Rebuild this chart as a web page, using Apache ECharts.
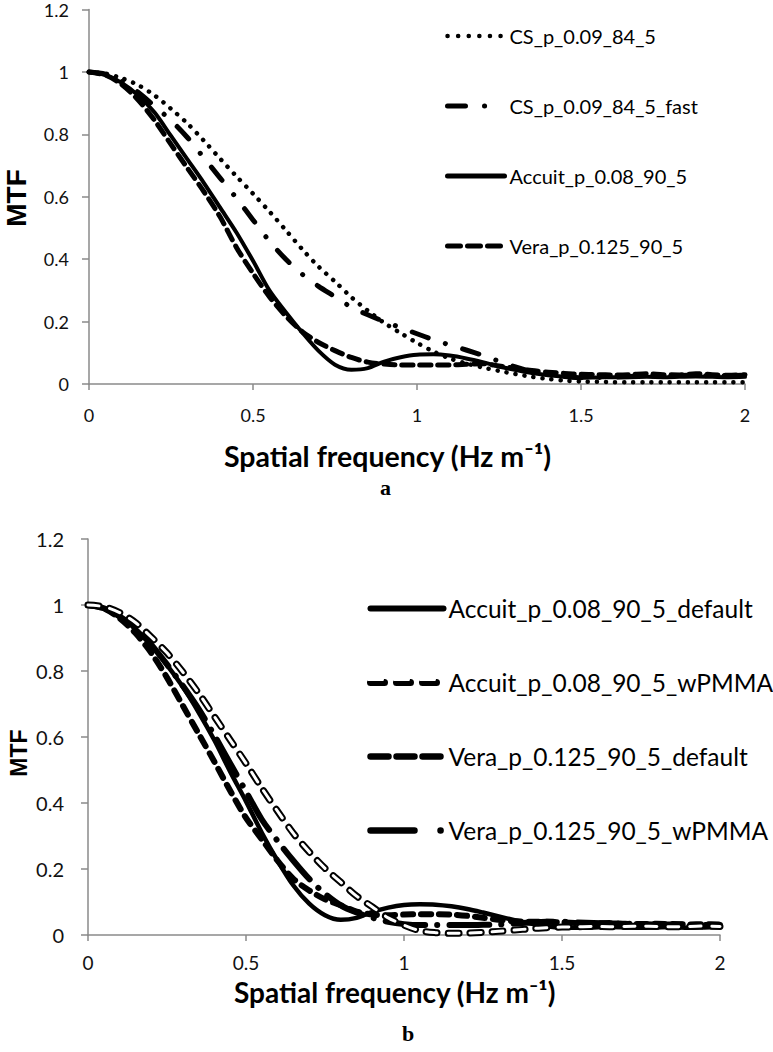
<!DOCTYPE html>
<html>
<head>
<meta charset="utf-8">
<script src="https://cdn.jsdelivr.net/npm/echarts@6/dist/echarts.min.js"></script>
<style>html,body{margin:0;padding:0;background:#fff;}#main{width:773px;height:1052px;}</style>
</head>
<body>
<div id="main"></div>
<script>
// ---- data ----
const freq = [0,0.05,0.1,0.15,0.2,0.25,0.3,0.35,0.4,0.45,0.5,0.55,0.6,0.65,0.7,0.75,0.8,0.85,0.9,0.95,1.0,1.05,1.1,1.15,1.2,1.25,1.3,1.35,1.4,1.45,1.5,1.55,1.6,1.65,1.7,1.75,1.8,1.85,1.9,1.95,2.0];
const xTicks = [0, 0.5, 1, 1.5, 2];
const yTicks = [0, 0.2, 0.4, 0.6, 0.8, 1, 1.2];

// panel a
const csP = [1,0.995,0.98,0.958,0.925,0.882,0.835,0.78,0.722,0.665,0.61,0.553,0.493,0.432,0.376,0.328,0.278,0.235,0.196,0.163,0.132,0.104,0.082,0.066,0.053,0.042,0.032,0.023,0.016,0.011,0.008,0.007,0.006,0.006,0.006,0.006,0.006,0.006,0.006,0.006,0.006];
const csPFast = [1,0.993,0.97,0.935,0.89,0.845,0.79,0.725,0.66,0.595,0.526,0.458,0.40,0.352,0.313,0.28,0.246,0.222,0.20,0.181,0.161,0.142,0.125,0.109,0.092,0.073,0.055,0.04,0.03,0.024,0.02,0.021,0.022,0.024,0.026,0.025,0.027,0.028,0.026,0.027,0.028];
const accuitA = [1,0.99,0.965,0.925,0.87,0.795,0.72,0.645,0.565,0.485,0.395,0.30,0.23,0.165,0.106,0.062,0.046,0.051,0.072,0.086,0.094,0.095,0.091,0.082,0.07,0.056,0.045,0.035,0.028,0.023,0.02,0.021,0.022,0.022,0.023,0.022,0.023,0.024,0.023,0.022,0.023];
const veraA = [1,0.99,0.96,0.91,0.845,0.768,0.692,0.617,0.535,0.437,0.355,0.28,0.218,0.168,0.133,0.107,0.085,0.07,0.064,0.061,0.061,0.061,0.061,0.063,0.065,0.058,0.05,0.043,0.038,0.034,0.031,0.03,0.029,0.03,0.033,0.03,0.029,0.033,0.03,0.028,0.03];

// panel b
const accuitDefault = [1,0.99,0.965,0.928,0.878,0.818,0.752,0.675,0.59,0.495,0.405,0.31,0.225,0.15,0.095,0.06,0.046,0.052,0.07,0.083,0.091,0.093,0.092,0.087,0.079,0.068,0.056,0.045,0.035,0.027,0.022,0.022,0.023,0.024,0.023,0.022,0.023,0.024,0.022,0.023,0.024];
const accuitPMMA = [1,0.995,0.977,0.947,0.903,0.855,0.797,0.733,0.662,0.591,0.52,0.445,0.375,0.308,0.252,0.202,0.16,0.118,0.085,0.052,0.03,0.013,0.007,0.005,0.006,0.008,0.011,0.015,0.019,0.022,0.024,0.025,0.026,0.025,0.026,0.027,0.026,0.025,0.026,0.027,0.026];
const veraDefault = [1,0.99,0.96,0.915,0.855,0.78,0.695,0.61,0.525,0.437,0.355,0.29,0.225,0.17,0.135,0.108,0.09,0.071,0.062,0.06,0.062,0.063,0.063,0.062,0.058,0.052,0.046,0.042,0.04,0.04,0.038,0.036,0.035,0.036,0.034,0.033,0.034,0.033,0.032,0.033,0.032];
const veraPMMA = [1,0.99,0.965,0.93,0.88,0.82,0.755,0.685,0.605,0.52,0.435,0.35,0.285,0.225,0.17,0.125,0.09,0.068,0.052,0.04,0.033,0.03,0.03,0.03,0.03,0.031,0.032,0.035,0.038,0.04,0.04,0.038,0.036,0.035,0.034,0.033,0.032,0.032,0.031,0.03,0.03];

const namesA = ['CS_p_0.09_84_5', 'CS_p_0.09_84_5_fast', 'Accuit_p_0.08_90_5', 'Vera_p_0.125_90_5'];
const namesB = ['Accuit_p_0.08_90_5_default', 'Accuit_p_0.08_90_5_wPMMA', 'Vera_p_0.125_90_5_default', 'Vera_p_0.125_90_5_wPMMA'];
const innerName = 'Accuit_p_0.08_90_5_wPMMA (inner)';

// ---- chart ----
const pairs = ys => freq.map((x, i) => [x, ys[i]]);
const chart = echarts.init(document.getElementById('main'), null, {renderer: 'svg', width: 773, height: 1052});

const axisCommonX = (gi, fs, margin) => ({
  type: 'value', gridIndex: gi, min: 0, max: 2, interval: 0.5,
  axisLine: {show: true, onZero: false, lineStyle: {color: '#8a8a8a', width: 1.5}},
  axisTick: {show: true, inside: false, length: 6, lineStyle: {color: '#8a8a8a', width: 1.5}},
  splitLine: {show: false},
  axisLabel: {fontFamily: 'Lato', fontSize: fs, color: '#111', margin: margin}
});
const axisCommonY = (gi, fs, margin) => ({
  type: 'value', gridIndex: gi, min: 0, max: 1.2, interval: 0.2,
  axisLine: {show: true, lineStyle: {color: '#8a8a8a', width: 1.5}},
  axisTick: {show: true, inside: false, length: 7, lineStyle: {color: '#8a8a8a', width: 1.5}},
  splitLine: {show: false},
  axisLabel: {fontFamily: 'Lato', fontSize: fs, color: '#111', margin: margin,
    formatter: v => String(Math.round(v * 10) / 10)}
});

const line = (name, ys, gi, width, type, extra) => Object.assign({
  name: name, type: 'line', xAxisIndex: gi, yAxisIndex: gi, data: pairs(ys),
  symbol: 'none', smooth: 0.3, silent: true, animation: false,
  lineStyle: {color: '#000', width: width, type: type, cap: 'round', join: 'round'},
  itemStyle: {color: '#000'}
}, extra || {});

const legItem = (name, width, type, color) => ({name: name, itemStyle: {opacity: 0},
  lineStyle: {width: width, type: type, cap: 'round', color: color || '#000'}});

const option = {
  backgroundColor: '#fff',
  animation: false,
  grid: [
    {left: 89, top: 9.6, width: 656, height: 374.4},
    {left: 88, top: 539, width: 632, height: 396}
  ],
  xAxis: [axisCommonX(0, 18, 22), axisCommonX(1, 19, 18)],
  yAxis: [axisCommonY(0, 18, 20), axisCommonY(1, 20, 24)],
  title: [
    {text: 'Spatial frequency (Hz m\u207B\u00B9)', left: 224, top: 441, padding: 0,
     textStyle: {fontFamily: 'Lato', fontWeight: 'bold', fontSize: 28.5, color: '#000'}},
    {text: 'Spatial frequency (Hz m\u207B\u00B9)', left: 234, top: 978, padding: 0,
     textStyle: {fontFamily: 'Lato', fontWeight: 'bold', fontSize: 28, color: '#000'}},
    {text: 'a', left: 380, top: 476, padding: 0,
     textStyle: {fontFamily: 'Liberation Serif', fontWeight: 'bold', fontSize: 22, color: '#000'}},
    {text: 'b', left: 402, top: 1022, padding: 0,
     textStyle: {fontFamily: 'Liberation Serif', fontWeight: 'bold', fontSize: 22, color: '#000'}}
  ],
  graphic: [
    {type: 'text', x: 16, y: 198, rotation: Math.PI / 2,
     style: {text: 'MTF', fill: '#000', font: 'bold 28px "Liberation Sans"', align: 'center', verticalAlign: 'middle'}},
    {type: 'text', x: 19, y: 753, rotation: Math.PI / 2,
     style: {text: 'MTF', fill: '#000', font: 'bold 23px "Liberation Sans"', align: 'center', verticalAlign: 'middle'}}
  ],
  legend: [
    {data: [legItem(namesA[0], 4.5, [0.1, 10.5]), legItem(namesA[1], 5, [18, 19, 0.1, 40]),
            legItem(namesA[2], 5, 'solid'), legItem(namesA[3], 5, [13, 7])],
     orient: 'vertical', left: 445, top: 26, itemWidth: 57, itemHeight: 14, itemGap: 50,
     selectedMode: false, padding: 0,
     textStyle: {fontFamily: 'Lato', fontSize: 20, color: '#000', lineHeight: 20}},
    {data: [legItem(namesB[0], 6, 'solid'), legItem(namesB[1], 7, [14, 12]),
            legItem(namesB[2], 6.5, [18, 8]), legItem(namesB[3], 6.5, [44, 26, 0.1, 40])],
     orient: 'vertical', left: 367, top: 596, itemWidth: 73, itemHeight: 14, itemGap: 49,
     selectedMode: false, padding: 0,
     textStyle: {fontFamily: 'Lato', fontSize: 24.5, color: '#000', lineHeight: 22}},
    {data: [legItem(innerName, 3, [14, 12], '#fff')], orient: 'vertical', left: 367, top: 667, itemWidth: 73, itemHeight: 14,
     selectedMode: false, padding: 0, z: 20, zlevel: 0, formatter: () => ' ',
     textStyle: {fontFamily: 'Lato', fontSize: 24.5, color: '#fff', lineHeight: 22}}
  ],
  series: [
    line(namesA[0], csP, 0, 4.5, [0.1, 9]),
    line(namesA[1], csPFast, 0, 5, [17, 18, 0.1, 18]),
    line(namesA[2], accuitA, 0, 4, 'solid'),
    line(namesA[3], veraA, 0, 5, [11, 7]),

    line(namesB[0], accuitDefault, 1, 4.5, 'solid'),
    line(namesB[2], veraDefault, 1, 6, [10, 8]),
    line(namesB[3], veraPMMA, 1, 6, [40, 12, 0.1, 12]),
    line(namesB[1], accuitPMMA, 1, 7, [11, 11]),
    line(innerName, accuitPMMA, 1, 3, [11, 11], {lineStyle: {color: '#fff', width: 3, type: [11, 11], cap: 'round', join: 'round'}, itemStyle: {color: '#fff'}})
  ]
};
chart.setOption(option);
</script>
</body>
</html>
